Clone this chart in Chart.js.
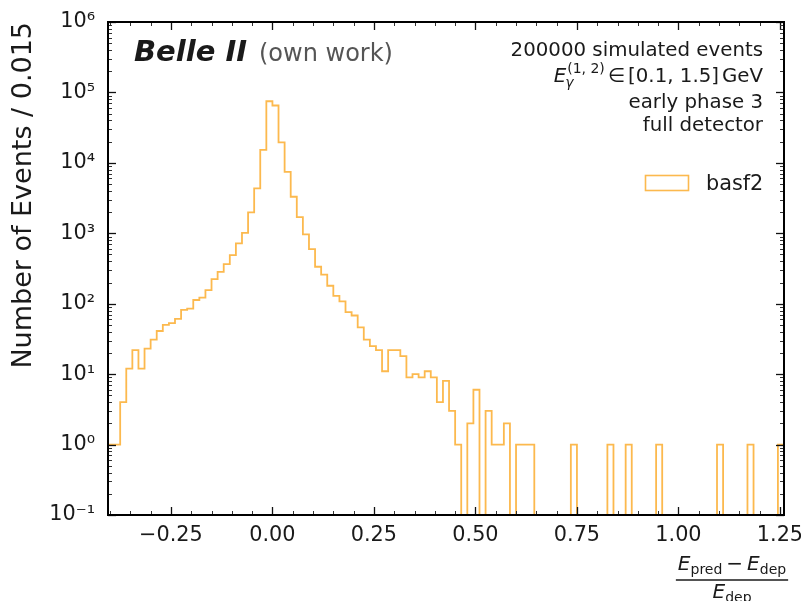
<!DOCTYPE html>
<html><head><meta charset="utf-8">
<script src="https://cdn.jsdelivr.net/npm/chart.js@4/dist/chart.umd.min.js"></script>
<style>html,body{margin:0;padding:0;background:#fff}#wrap{width:801px;height:601px}</style>
</head><body><div id="wrap"><canvas id="c" width="801" height="601"></canvas></div>
<script>
// ---- data ----
const histRange = [-0.405, 1.26];
const binWidth = 0.015;
const counts = [
  1, 1, 4, 12, 22, 12, 23, 31, 41, 50,
  53, 61, 82, 85, 113, 122, 156, 224, 284, 366,
  491, 719, 1016, 1978, 4330, 15300, 75000, 65200, 19500, 7450,
  3300, 1700, 964, 597, 335, 258, 180, 129, 108, 76,
  68, 46, 31, 25, 22, 11, 22, 22, 18, 9,
  10, 9, 11, 9, 4, 8, 3, 1, 0, 2,
  6, 0, 3, 1, 1, 2, 0, 1, 1, 1,
  0, 0, 0, 0, 0, 0, 1, 0, 0, 0,
  0, 0, 1, 0, 0, 1, 0, 0, 0, 0,
  1, 0, 0, 0, 0, 0, 0, 0, 0, 0,
  1, 0, 0, 0, 0, 1, 0, 0, 0, 0,
  1
];
const seriesLabel = 'basf2';
const xTickValues = [-0.25, 0, 0.25, 0.5, 0.75, 1.0, 1.25];
const xTickLabels = ['\u22120.25', '0.00', '0.25', '0.50', '0.75', '1.00', '1.25'];
const yTickValues = [0.1, 1, 10, 100, 1e3, 1e4, 1e5, 1e6];
const yTickLabels = ['10\u207B\u00B9', '10\u2070', '10\u00B9', '10\u00B2', '10\u00B3', '10\u2074', '10\u2075', '10\u2076'];
const yAxisTitle = 'Number of Events / 0.015';
const infoLines = ['200000 simulated events', 'EGAMMA', 'early phase 3', 'full detector'];

// ---- build step histogram points ----
const nBins = counts.length;
const FLOOR = 1e-3; // empty bins drop below the axis
const edges = [];
for (let i = 0; i <= nBins; i++) edges.push(histRange[0] + i * binWidth);
const pts = [{x: edges[0], y: FLOOR}];
counts.forEach((c, i) => pts.push({x: edges[i], y: c > 0 ? c : FLOOR}));
pts.push({x: edges[nBins], y: counts[nBins - 1] > 0 ? counts[nBins - 1] : FLOOR});
pts.push({x: edges[nBins], y: FLOOR});

const FONT = '"DejaVu Sans", sans-serif';
const TXT = '#1a1a1a';
const ORANGE = 'rgb(252,185,78)';

function drawSegments(ctx, segs, xStart, baseline) {
  let x = xStart;
  for (const s of segs) {
    ctx.font = s.font;
    ctx.fillText(s.t, x, baseline + (s.dy || 0));
    x += ctx.measureText(s.t).width + (s.after || 0);
  }
}
function segWidth(ctx, segs) {
  let w = 0;
  for (const s of segs) { ctx.font = s.font; w += ctx.measureText(s.t).width + (s.after || 0); }
  return w;
}

const decor = {
  id: 'decor',
  afterDraw(chart) {
    const {ctx, chartArea: a, scales: {x, y}} = chart;
    ctx.save();
    const seg = (x1, y1, x2, y2) => { ctx.beginPath(); ctx.moveTo(x1, y1); ctx.lineTo(x2, y2); ctx.stroke(); };
    // inward ticks, all four sides
    ctx.strokeStyle = '#111';
    ctx.lineWidth = 1.3;
    for (const v of xTickValues) {
      const p = Math.round(x.getPixelForValue(v)) + 0.5;
      seg(p, a.bottom, p, a.bottom - 8); seg(p, a.top, p, a.top + 8);
    }
    for (const v of yTickValues) {
      const p = Math.round(y.getPixelForValue(v)) + 0.5;
      seg(a.left, p, a.left + 8, p); seg(a.right, p, a.right - 8, p);
    }
    ctx.lineWidth = 1;
    ctx.strokeStyle = '#333';
    const xMinorStep = 0.05;
    for (let k = Math.ceil(histRange[0] / xMinorStep); k * xMinorStep <= histRange[1]; k++) {
      const v = k * xMinorStep;
      if (xTickValues.some(t => Math.abs(t - v) < 1e-9)) continue;
      const p = Math.round(x.getPixelForValue(v)) + 0.5;
      seg(p, a.bottom, p, a.bottom - 4); seg(p, a.top, p, a.top + 4);
    }
    for (let n = -1; n < 6; n++) {
      for (let m = 2; m <= 9; m++) {
        const p = Math.round(y.getPixelForValue(m * Math.pow(10, n))) + 0.5;
        seg(a.left, p, a.left + 4, p); seg(a.right, p, a.right - 4, p);
      }
    }
    // frame
    ctx.strokeStyle = '#000';
    ctx.lineWidth = 2;
    ctx.strokeRect(a.left, a.top, a.right - a.left, a.bottom - a.top);

    ctx.fillStyle = TXT;
    ctx.textBaseline = 'alphabetic';
    ctx.textAlign = 'left';
    // Belle II label
    ctx.font = 'italic bold 29px ' + FONT;
    ctx.fillText('Belle II', 134, 61);
    ctx.fillStyle = '#555';
    ctx.font = '24px ' + FONT;
    ctx.fillText('(own work)', 259, 61);

    // info text, right aligned
    ctx.fillStyle = TXT;
    const R = 763;
    const fs = 19.8;
    const base = [56, 82, 108, 131];
    infoLines.forEach((t, i) => {
      if (t === 'EGAMMA') {
        // E_gamma^(1,2) in [0.1, 1.5] GeV
        ctx.font = 'italic ' + fs + 'px ' + FONT;
        const wE = ctx.measureText('E').width;
        ctx.font = '14px ' + FONT;
        const wSup = ctx.measureText('(1, 2)').width;
        const rest = [
          {t: '\u2208', font: fs + 'px ' + FONT, after: 3},
          {t: '[0.1, 1.5]', font: fs + 'px ' + FONT, after: 3},
          {t: 'GeV', font: fs + 'px ' + FONT}
        ];
        const wRest = segWidth(ctx, rest);
        const total = wE + 1 + wSup + 3 + wRest;
        let x0 = R - total;
        ctx.font = 'italic ' + fs + 'px ' + FONT;
        ctx.fillText('E', x0, base[i]);
        ctx.font = 'italic 14px ' + FONT;
        ctx.fillText('\u03B3', x0 + wE - 1, base[i] + 5);
        ctx.font = '14px ' + FONT;
        ctx.fillText('(1, 2)', x0 + wE + 1, base[i] - 9);
        drawSegments(ctx, rest, x0 + wE + 1 + wSup + 3, base[i]);
      } else {
        ctx.font = fs + 'px ' + FONT;
        ctx.textAlign = 'right';
        ctx.fillText(t, R, base[i]);
        ctx.textAlign = 'left';
      }
    });

    // legend
    const ds = chart.data.datasets[0];
    ctx.strokeStyle = ds.borderColor;
    ctx.lineWidth = 1.6;
    ctx.fillStyle = '#fff';
    ctx.fillRect(645.5, 175.5, 43, 15);
    ctx.strokeRect(645.5, 175.5, 43, 15);
    ctx.fillStyle = TXT;
    ctx.font = '20.8px ' + FONT;
    ctx.fillText(ds.label, 706, 190);

    // x-axis label as fraction (E_pred - E_dep) / E_dep
    const cx = 732;
    const num = [
      {t: 'E', font: 'italic 20px ' + FONT},
      {t: 'pred', font: '14px ' + FONT, dy: 4, after: 4},
      {t: '\u2212', font: '20px ' + FONT, after: 4},
      {t: 'E', font: 'italic 20px ' + FONT},
      {t: 'dep', font: '14px ' + FONT, dy: 4}
    ];
    const den = [
      {t: 'E', font: 'italic 20px ' + FONT},
      {t: 'dep', font: '14px ' + FONT, dy: 4}
    ];
    const wn = segWidth(ctx, num), wd = segWidth(ctx, den);
    drawSegments(ctx, num, cx - wn / 2, 570);
    drawSegments(ctx, den, cx - wd / 2, 598);
    ctx.strokeStyle = TXT;
    ctx.lineWidth = 1.5;
    seg(cx - wn / 2 - 2, 580, cx + wn / 2 + 2, 580);
    ctx.restore();
  }
};

new Chart(document.getElementById('c'), {
  type: 'line',
  data: {
    datasets: [{
      label: seriesLabel,
      data: pts,
      borderColor: ORANGE,
      borderWidth: 1.8,
      backgroundColor: 'rgba(0,0,0,0)',
      fill: false,
      stepped: 'before',
      pointRadius: 0,
      tension: 0
    }]
  },
  options: {
    responsive: false,
    animation: false,
    devicePixelRatio: 1,
    layout: {padding: {top: 22, right: 17, left: 0, bottom: 0}},
    plugins: {legend: {display: false}, tooltip: {enabled: false}},
    scales: {
      x: {
        type: 'linear',
        min: histRange[0], max: histRange[1],
        afterBuildTicks: s => { s.ticks = xTickValues.map(v => ({value: v})); },
        ticks: {
          autoSkip: false, maxRotation: 0, padding: 8, color: TXT,
          font: {family: 'DejaVu Sans', size: 20.8},
          callback: v => xTickLabels[xTickValues.findIndex(t => Math.abs(t - v) < 1e-9)]
        },
        grid: {display: false, drawTicks: false},
        border: {display: false},
        afterFit: s => { s.height = 86; s.paddingLeft = 0; s.paddingRight = 0; }
      },
      y: {
        type: 'logarithmic',
        min: 0.1, max: 1e6,
        afterBuildTicks: s => { s.ticks = yTickValues.map(v => ({value: v, major: true})); },
        ticks: {
          autoSkip: false, padding: 13, color: TXT,
          font: {family: 'DejaVu Sans', size: 20.8},
          callback: v => yTickLabels[yTickValues.findIndex(t => Math.abs(Math.log10(t) - Math.log10(v)) < 1e-6)]
        },
        grid: {display: false, drawTicks: false},
        border: {display: false},
        title: {
          display: true, text: yAxisTitle, align: 'end', color: TXT,
          font: {family: 'DejaVu Sans', size: 27}, padding: {top: 8, bottom: 0}
        },
        afterFit: s => { s.width = 108; s.paddingTop = 0; s.paddingBottom = 0; }
      }
    }
  },
  plugins: [decor]
});
</script>
</body></html>
